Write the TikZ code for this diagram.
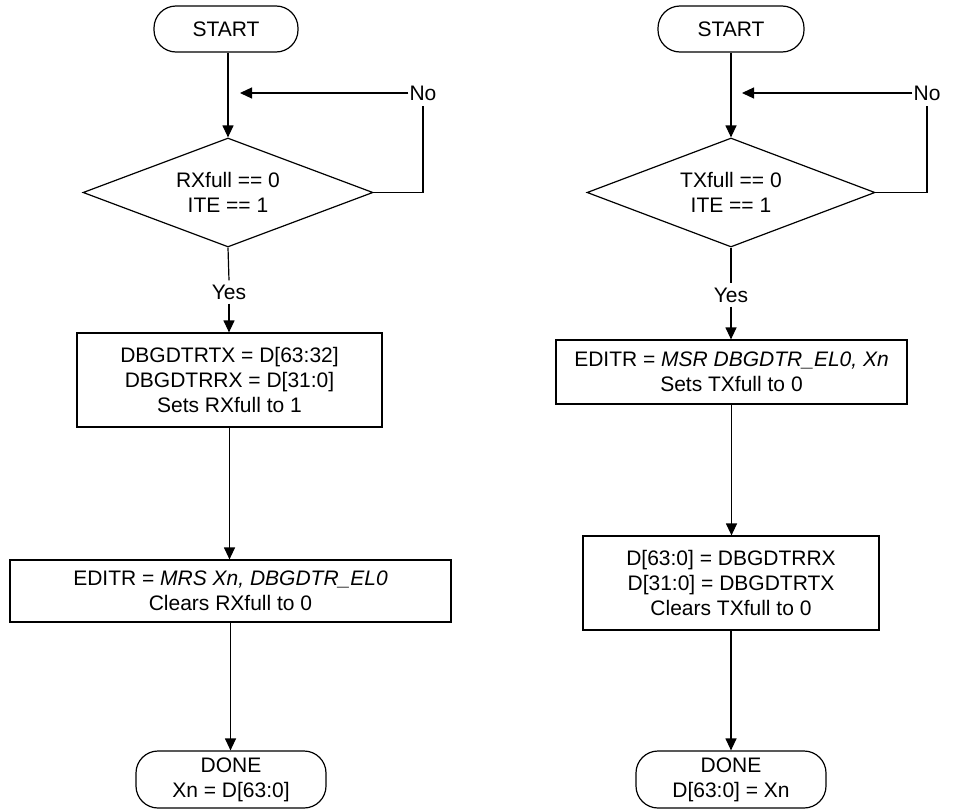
\documentclass[tikz,border=0pt]{standalone}
\usepackage{fontspec}
\setmainfont{Liberation Sans}
\usetikzlibrary{shapes.geometric,arrows.meta}
\begin{document}
\begin{tikzpicture}[x=1pt,y=-1pt,
  every node/.style={font=\fontsize{21}{25}\selectfont, align=center, text=black},
  flow/.style={line width=1.2pt, draw=black},
  arr/.style={flow,-{Triangle[length=12pt,width=11pt]}},
  pill/.style={draw, line width=1.2pt, rounded corners=22pt, inner sep=0pt},
  procbox/.style={draw, line width=1.2pt, inner sep=0pt},
  decision/.style={draw, line width=1.2pt, diamond, shape aspect=2.66, inner sep=0pt, minimum width=290pt, minimum height=109pt},
  lblno/.style={inner xsep=1pt, inner ysep=5pt},
  lblyes/.style={inner xsep=1pt, inner ysep=4pt}
]
\useasboundingbox (0,0) rectangle (953,811);

% ---------- left flow ----------
\node[pill, minimum width=144pt, minimum height=46pt] (startL) at (226,29) {START};
\node[decision] (dL) at (228,192.5) {RXfull == 0\\ITE == 1};
\node[lblno] (noL) at (423,93) {No};
\coordinate (loopL) at (240,93);
\node[lblyes] (yesL) at (229,292) {Yes};
\node[procbox, minimum width=305pt, minimum height=94pt] (b1L) at (229.5,380) {DBGDTRTX = D[63:32]\\DBGDTRRX = D[31:0]\\Sets RXfull to 1};
\node[procbox, minimum width=441pt, minimum height=62pt] (b2L) at (230.5,591) {EDITR = \textit{MRS Xn, DBGDTR\_EL0}\\Clears RXfull to 0};
\node[pill, minimum width=190pt, minimum height=57pt] (doneL) at (231,779.5) {DONE\\Xn = D[63:0]};

\draw[arr] (dL.north |- startL.south) -- (dL.north);
\draw[flow] (dL.east) -- (noL.south |- dL.east) -- (noL.south);
\draw[arr] (noL.west) -- (loopL);
\draw[flow] (dL.south) -- (yesL.north);
\draw[arr] (yesL.south) -- (yesL.south |- b1L.north);
\draw[arr] (b1L.south) -- (b1L.south |- b2L.north);
\draw[arr] (b2L.south) -- (b2L.south |- doneL.north);

% ---------- right flow ----------
\node[pill, minimum width=146pt, minimum height=46pt] (startR) at (731,29) {START};
\node[decision, minimum width=288pt] (dR) at (731,192.5) {TXfull == 0\\ITE == 1};
\node[lblno] (noR) at (927,93) {No};
\coordinate (loopR) at (742,93);
\node[lblyes] (yesR) at (731,295) {Yes};
\node[procbox, minimum width=351pt, minimum height=64pt] (b1R) at (731.5,372) {EDITR = \textit{MSR DBGDTR\_EL0, Xn}\\Sets TXfull to 0};
\node[procbox, minimum width=296pt, minimum height=94pt] (b2R) at (731,583) {D[63:0] = DBGDTRRX\\D[31:0] = DBGDTRTX\\Clears TXfull to 0};
\node[pill, minimum width=190pt, minimum height=57pt] (doneR) at (731,779.5) {DONE\\D[63:0] = Xn};

\draw[arr] (dR.north |- startR.south) -- (dR.north);
\draw[flow] (dR.east) -- (noR.south |- dR.east) -- (noR.south);
\draw[arr] (noR.west) -- (loopR);
\draw[flow] (dR.south) -- (yesR.north);
\draw[arr] (yesR.south) -- (yesR.south |- b1R.north);
\draw[arr] (b1R.south) -- (b1R.south |- b2R.north);
\draw[arr] (b2R.south) -- (b2R.south |- doneR.north);
\end{tikzpicture}
\end{document}
